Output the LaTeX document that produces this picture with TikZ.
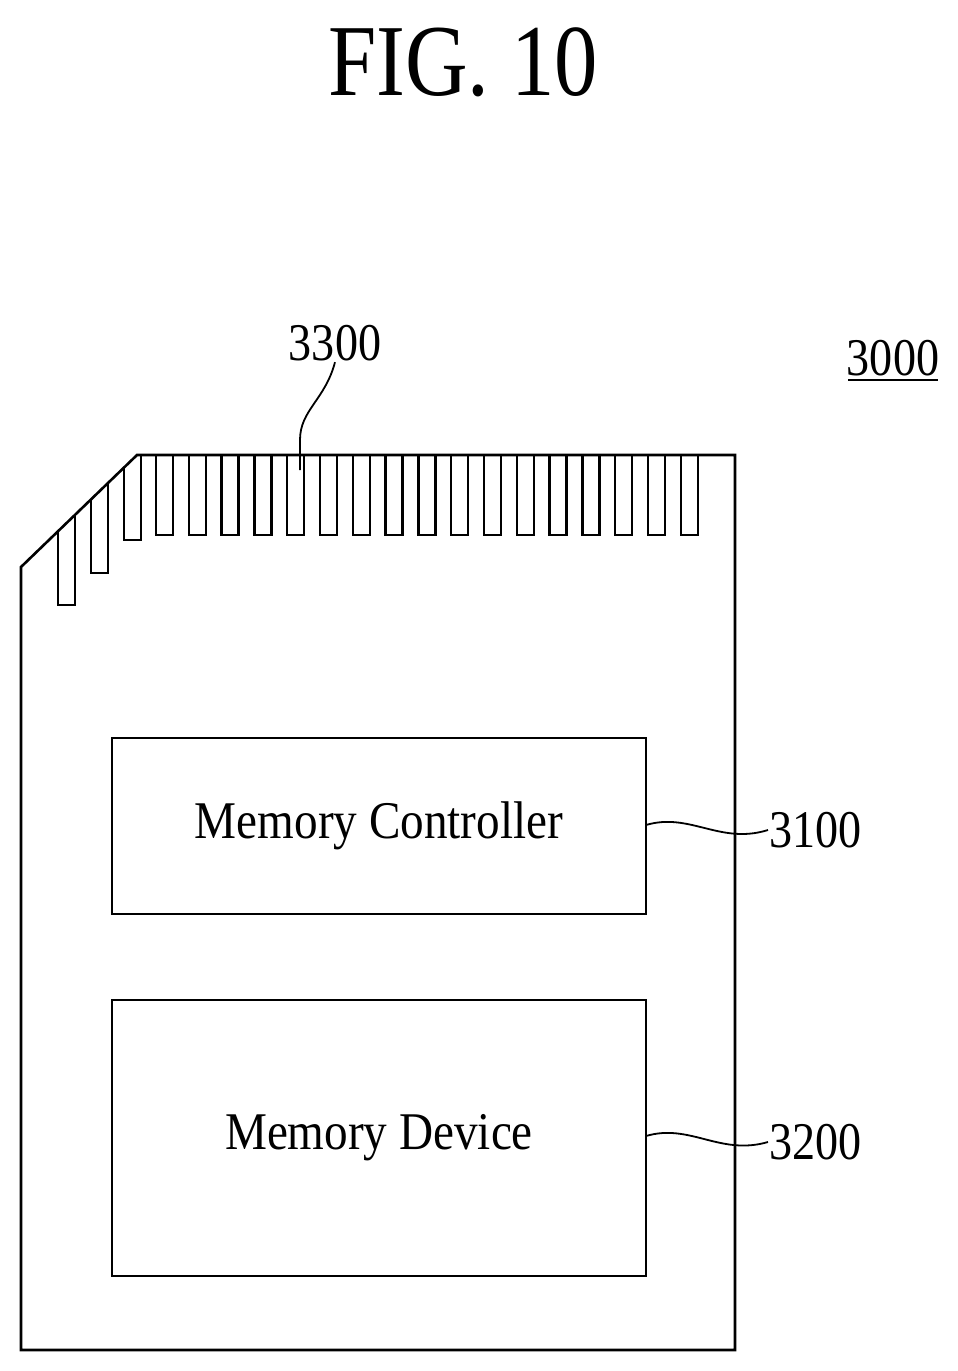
\documentclass[tikz,border=0pt]{standalone}
\usepackage{fontspec}
\setmainfont{Liberation Serif}
\usepackage{graphicx}
\begin{document}
\begin{tikzpicture}[x=1pt,y=-1pt,line width=2.6pt,
  lbl/.style={inner sep=0pt,font=\fontsize{53}{56}\selectfont},
  box/.style={draw,line width=2.6pt,minimum width=534pt,inner sep=0pt},
  pin/.style={line width=2.4pt}]
\useasboundingbox (0,0) rectangle (958,1371);
\node[inner sep=0pt,font=\fontsize{102}{106}\selectfont] (title) at (463,62) {\scalebox{0.85}[1]{FIG. 10}};
% card
\draw[line join=miter] (21,1350) -- (21,567) -- (137,455) -- (735,455) -- (735,1350) -- cycle;
% top pins
\foreach \i in {0,...,16}{
  \draw[pin] ({156+\i*32.8},455) -- ({156+\i*32.8},535) -- ({173+\i*32.8},535) -- ({173+\i*32.8},455);
}
% slanted pins: tops on diagonal
\foreach \xa/\yb in {124/540, 91/573, 58/605}{
  \pgfmathsetmacro\ya{455+(137-\xa)*112/116}
  \pgfmathsetmacro\yc{max(455,455+(137-\xa-17)*112/116)}
  \draw[pin] (\xa,\ya) -- (\xa,\yb) -- (\xa+17,\yb) -- (\xa+17,\yc);
}
\node[box,minimum height=176pt] (mc) at (379,826) {};
\node[lbl] at (mc.center) {\scalebox{0.89}[1]{Memory Controller}};
\node[box,minimum height=276pt] (md) at (379,1138) {};
\node[lbl] at (md.center) {\scalebox{0.89}[1]{Memory Device}};
\node[lbl,anchor=west] (l3100) at (768,830) {\scalebox{0.87}[1]{3100}};
\node[lbl,anchor=west] (l3200) at (768,1142) {\scalebox{0.87}[1]{3200}};
\node[lbl] (l3300) at (335,343) {\scalebox{0.87}[1]{3300}};
\node[lbl] (l3000) at (893,358) {\scalebox{0.87}[1]{3000}};
\draw[line width=2pt] (848,380) -- (938,380);
\draw[line width=1.8pt] (646,825) .. controls (690,812) and (720,845) .. (l3100.west);
\draw[line width=1.8pt] (646,1136) .. controls (690,1123) and (720,1156) .. (l3200.west);
\coordinate (p3300) at (300,470);
\draw[line width=1.8pt] (p3300) -- (300,440) .. controls (300,410) and (325,400) .. (l3300.south);
\end{tikzpicture}
\end{document}
